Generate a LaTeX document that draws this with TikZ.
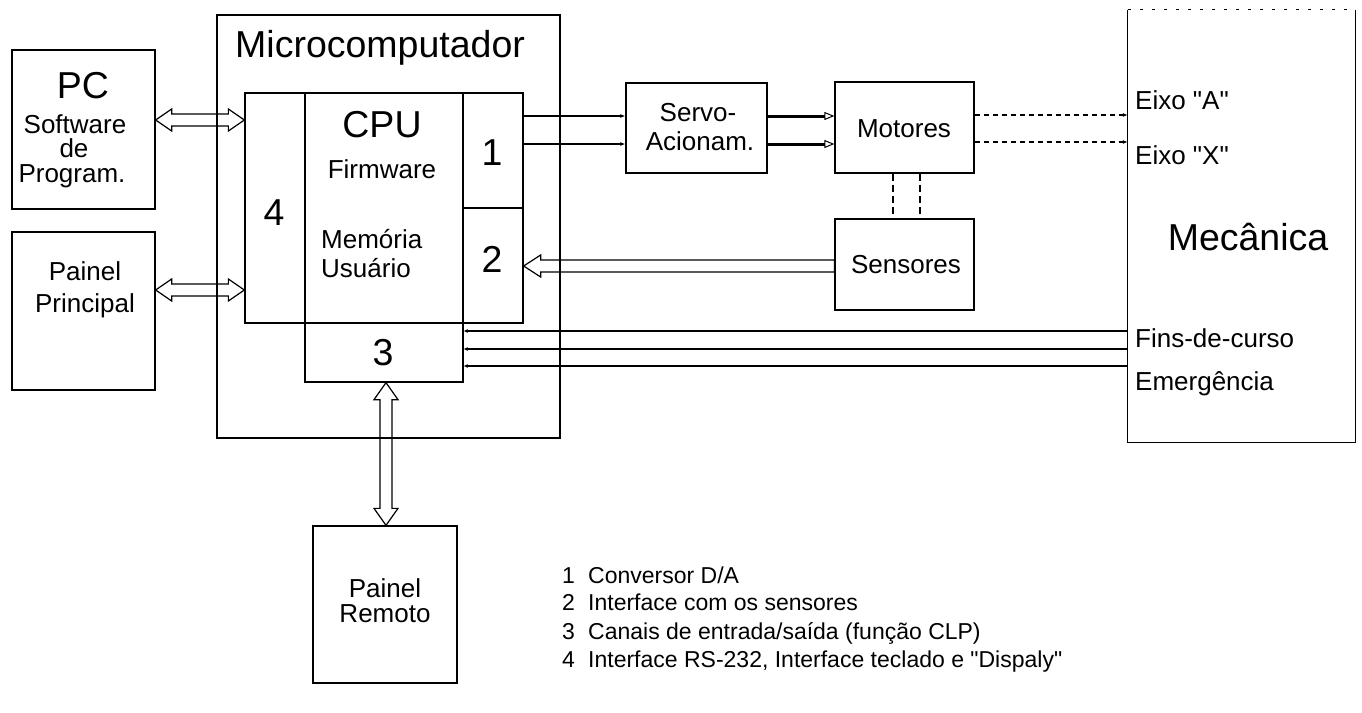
\documentclass[tikz,border=0pt]{standalone}
\usepackage{fontspec}
\setmainfont{Liberation Sans}[Ligatures=TeXOff]
\usetikzlibrary{arrows.meta,calc}
\tikzset{
  box/.style={draw, line width=1.3pt, inner sep=0pt},
  frame/.style={draw=none, inner sep=0pt},
  lbl/.style={inner sep=0pt, anchor=base, font=\fontsize{26}{30}\selectfont},
  lblw/.style={lbl, anchor=base west},
  big/.style={inner sep=0pt, anchor=base, font=\fontsize{37.5}{42}\selectfont},
  leg/.style={inner sep=0pt, anchor=base west, font=\fontsize{23}{27}\selectfont},
  hollow/.style={draw, line width=1.2pt, line join=miter},
  wire/.style={draw, line width=1.1pt},
  smalltip/.style={-{Latex[length=5pt,width=4pt]}},
  power/.style={draw, line width=3pt, -{Triangle[open, length=10pt, width=8pt, line width=1pt]}},
  dashline/.style={draw, line width=1.1pt, dash pattern=on 5pt off 4pt},
  vdash/.style={draw, line width=1.4pt, dash pattern=on 7pt off 4pt},
}
\newcommand{\hdarr}[2]{\draw[hollow] (#1) -- ++(16,-11) -- ++(0,5) -- ($(#2)+(-16,-6)$) -- ++(0,-5) -- (#2) -- ++(-16,11) -- ++(0,-5) -- ($(#1)+(16,6)$) -- ++(0,5) -- cycle;}
\begin{document}
\begin{tikzpicture}[x=1pt,y=-1pt]
\useasboundingbox (0,0) rectangle (1362,712);
% boxes
\node[box, minimum width=143pt, minimum height=159pt] (pc) at (83.5,129.5) {};
\node[box, minimum width=143pt, minimum height=158pt] (pp) at (83.5,311) {};
\node[box, minimum width=343pt, minimum height=423pt] (micro) at (388.5,226.5) {};
\node[box, minimum width=60pt, minimum height=230pt] (b4) at (275,208) {};
\node[box, minimum width=158pt, minimum height=230pt] (cpu) at (384,208) {};
\node[box, minimum width=60pt, minimum height=115pt] (b1) at (493,150.5) {};
\node[box, minimum width=60pt, minimum height=115pt] (b2) at (493,265.5) {};
\node[box, minimum width=158pt, minimum height=59pt] (b3) at (384,352.5) {};
\node[box, minimum width=141pt, minimum height=90pt] (servo) at (696.5,128) {};
\node[box, minimum width=139pt, minimum height=91pt] (mot) at (904.5,127.5) {};
\node[box, minimum width=139pt, minimum height=91pt] (sens) at (904.5,264.5) {};
\node[frame, minimum width=227pt, minimum height=432pt] (mec) at (1241.5,226) {};
\draw[line width=1.3pt] (mec.north west) -- (mec.south west) -- (mec.south east) -- (mec.north east);
\draw[line width=1.1pt, dash pattern=on 3pt off 9pt] (mec.north west) -- (mec.north east);
\node[box, minimum width=144pt, minimum height=157pt] (remote) at (385,604.5) {};
% texts
\node[big] (tpc) at (83,98) {PC};
\node[lbl] (tsw) at (75,133) {Software};
\node[lbl] (tde) at (74,157) {de};
\node[lbl] (tpg) at (72,182) {Program.};
\node[lbl] (tpa) at (85,280) {Painel};
\node[lbl] (tpr) at (85,312) {Principal};
\node[big, anchor=base west] (tmc) at (235,57) {Microcomputador};
\node[big] (tcpu) at (382,137) {CPU};
\node[lbl] (tfw) at (382,178) {Firmware};
\node[lblw] (tme) at (321,248) {Memória};
\node[lblw] (tus) at (321,277) {Usuário};
\node[big] (t4) at (274,225) {4};
\node[big] (t1) at (492,165) {1};
\node[big] (t2) at (492,272) {2};
\node[big] (t3) at (383,365) {3};
\node[lbl] (tsv) at (698,121) {Servo-};
\node[lbl] (tac) at (700,150) {Acionam.};
\node[lbl] (tmo) at (904,137) {Motores};
\node[lbl] (tse) at (906,273) {Sensores};
\node[lblw] (tea) at (1135,109) {Eixo "A"};
\node[lblw] (tex) at (1135,164) {Eixo "X"};
\node[big] (tmec) at (1248,250) {Mecânica};
\node[lblw] (tfc) at (1135,347) {Fins-de-curso};
\node[lblw] (tem) at (1135,390) {Emergência};
\node[lbl] (trp) at (385,597) {Painel};
\node[lbl] (trr) at (385,622) {Remoto};
% legend
\node[leg] (n1) at (562,583) {1};
\node[leg] (l1) at (588,583) {Conversor D/A};
\node[leg] (n2) at (562,610) {2};
\node[leg] (l2) at (588,610) {Interface com os sensores};
\node[leg] (n3) at (562,639) {3};
\node[leg] (l3) at (588,639) {Canais de entrada/saída (função CLP)};
\node[leg] (n4) at (562,667) {4};
\node[leg] (l4) at (588,667) {Interface RS-232, Interface teclado e "Dispaly"};
% PC <-> 4, Painel <-> 4
\coordinate (pa) at ([yshift=9.5pt]pc.east);
\coordinate (pb) at (b4.west |- pa);
\hdarr{pa}{pb}
\coordinate (qa) at ([yshift=21pt]pp.east);
\coordinate (qb) at (b4.west |- qa);
\hdarr{qa}{qb}
% 1 -> servo
\coordinate (s1) at ([yshift=12pt]servo.west);
\coordinate (s2) at ([yshift=-16pt]servo.west);
\draw[wire, smalltip] (b1.east |- s1) -- (s1);
\draw[wire, smalltip] (b1.east |- s2) -- (s2);
% servo -> motores
\draw[power] (s1 -| servo.east) -- (s1 -| mot.west);
\draw[power] (s2 -| servo.east) -- (s2 -| mot.west);
% motores -> mecanica
\coordinate (m1) at ([yshift=12.5pt]mot.east);
\coordinate (m2) at ([yshift=-14.5pt]mot.east);
\draw[dashline, smalltip] (m1) -- (m1 -| mec.west);
\draw[dashline, smalltip] (m2) -- (m2 -| mec.west);
% motores -- sensores
\draw[vdash] ([xshift=-11.5pt]mot.south) -- ([xshift=-11.5pt]sens.north);
\draw[vdash] ([xshift=15.5pt]mot.south) -- ([xshift=15.5pt]sens.north);
% sensores -> 2
\coordinate (h1) at ([yshift=-1.5pt]sens.west);
\coordinate (h2) at (b2.east |- h1);
\draw[hollow] (h2) -- ++(17,-11) -- ++(0,5) -- ($(h1)+(0,-6)$) -- ($(h1)+(0,6)$) -- ($(h2)+(17,6)$) -- ++(0,5) -- cycle;
% 3 -- mecanica
\foreach \s/\n in {21.5/a,3.5/b,-13.5/c}{
  \coordinate (f\n) at ([yshift=\s pt]b3.east);
  \draw[wire, {Latex[length=4pt,width=4pt]}-] (f\n) -- (f\n -| mec.west);
}
% 3 <-> Painel Remoto
\coordinate (va) at ([xshift=2pt]b3.south);
\coordinate (vb) at (va |- remote.north);
\draw[hollow] (va) -- ++(12,17) -- ++(-6,0) -- ($(vb)+(6,-17)$) -- ++(6,0) -- (vb) -- ++(-12,-17) -- ++(6,0) -- ($(va)+(-6,17)$) -- ++(-6,0) -- cycle;
\end{tikzpicture}
\end{document}
